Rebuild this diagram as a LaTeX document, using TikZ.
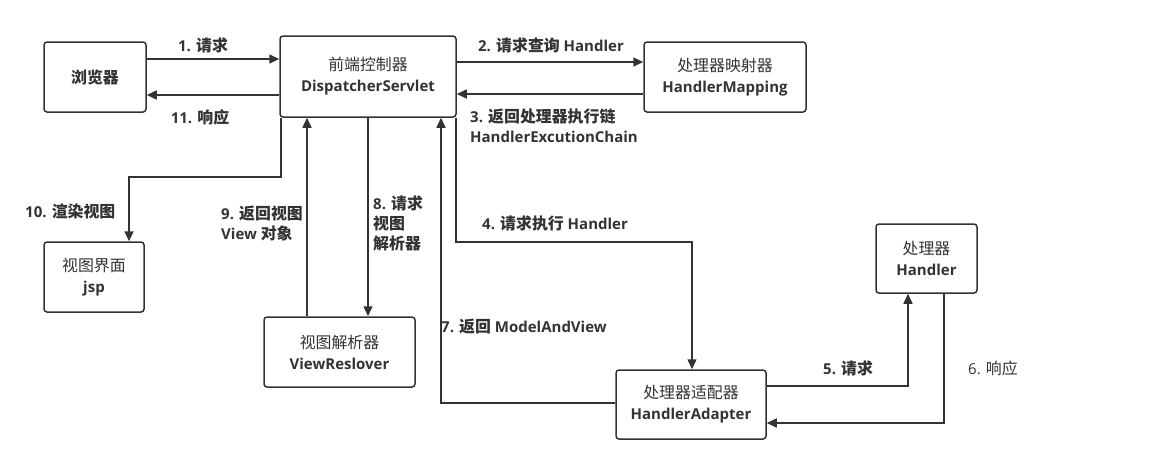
\documentclass[tikz,border=0pt]{standalone}
\usepackage{fontspec}
\setmainfont{Open Sans}
\newfontfamily\cjk[Scale=1.06]{Noto Sans CJK SC}
\usetikzlibrary{arrows.meta}
\newcommand{\zh}[1]{{\cjk #1}}
\definecolor{ink}{HTML}{333333}
\tikzset{
  box/.style={draw=ink, line width=1.5pt, rounded corners=3pt, fill=white, align=center, text=ink, font=\fontsize{15}{21}\selectfont, inner sep=0pt},
  arr/.style={draw=ink, line width=1.5pt, -{Triangle[length=10pt,width=9pt]}},
  lbl/.style={text=ink, font=\fontsize{15}{20}\selectfont\bfseries, inner sep=0pt, align=left},
}
\begin{document}
\begin{tikzpicture}[x=1pt,y=-1pt]
\useasboundingbox (0,0) rectangle (1163,464);
% boxes
\node[box, minimum width=102pt, minimum height=70pt] (br) at (95,77) {\zh{\bfseries 浏览器}};
\node[box, minimum width=176pt, minimum height=81pt] (ds) at (368,76.5) {\zh{前端控制器}\\\textbf{DispatcherServlet}};
\node[box, minimum width=162pt, minimum height=70pt] (hm) at (725,77) {\zh{处理器映射器}\\\textbf{HandlerMapping}};
\node[box, minimum width=100pt, minimum height=70pt] (jsp) at (94,277) {\zh{视图界面}\\\textbf{jsp}};
\node[box, minimum width=151pt, minimum height=70pt] (vr) at (339.5,352) {\zh{视图解析器}\\\textbf{ViewReslover}};
\node[box, minimum width=150pt, minimum height=69pt] (ha) at (691,404.5) {\zh{处理器适配器}\\\textbf{HandlerAdapter}};
\node[box, minimum width=101pt, minimum height=69pt] (hd) at (926.5,258.5) {\zh{处理器}\\\textbf{Handler}};
% connectors
\draw[arr] (br.east |- 0,59) -- (ds.west |- 0,59);
\draw[arr] (ds.west |- 0,95) -- (br.east |- 0,95);
\draw[arr] (ds.east |- 0,62) -- (hm.west |- 0,62);
\draw[arr] (hm.west |- 0,94) -- (ds.east |- 0,94);
\draw[arr] (ds.south -| 281,0) -- (281,177) -- (129,177) -- (jsp.north -| 129,0);
\draw[arr] (vr.north -| 307,0) -- (ds.south -| 307,0);
\draw[arr] (ds.south -| 368,0) -- (vr.north -| 368,0);
\draw[arr] (ds.south -| 456,0) -- (456,242) -- (692,242) -- (ha.north -| 692,0);
\draw[arr] (ha.west |- 0,403) -- (441,403) -- (ds.south -| 441,0);
\draw[arr] (ha.east |- 0,386) -- (908,386) -- (hd.south -| 908,0);
\draw[arr] (hd.south -| 944,0) -- (944,423) -- (ha.east |- 0,423);
% labels
\node[lbl] (l1) at (203,45) {1. \zh{\bfseries 请求}};
\node[lbl] (l11) at (200,117) {11. \zh{\bfseries 响应}};
\node[lbl] (l2) at (551,45) {2. \zh{\bfseries 请求查询} Handler};
\node[lbl, anchor=west] (l3) at (470,126) {3. \zh{\bfseries 返回处理器执行链}\\HandlerExcutionChain};
\node[lbl, anchor=west] (l10) at (25,211) {10. \zh{\bfseries 渲染视图}};
\node[lbl, anchor=west] (l9) at (221,223) {9. \zh{\bfseries 返回视图}\\View \zh{\bfseries 对象}};
\node[lbl, anchor=west] (l8) at (373,223) {8. \zh{\bfseries 请求}\\\zh{\bfseries 视图}\\\zh{\bfseries 解析器}};
\node[lbl, anchor=west] (l4) at (482,223) {4. \zh{\bfseries 请求执行} Handler};
\node[lbl, anchor=west] (l7) at (441,327) {7. \zh{\bfseries 返回} ModelAndView};
\node[lbl, anchor=west] (l5) at (823,368) {5. \zh{\bfseries 请求}};
\node[lbl, anchor=west, font=\fontsize{15}{20}\selectfont] (l6) at (968,368) {6. \zh{响应}};
\end{tikzpicture}
\end{document}
